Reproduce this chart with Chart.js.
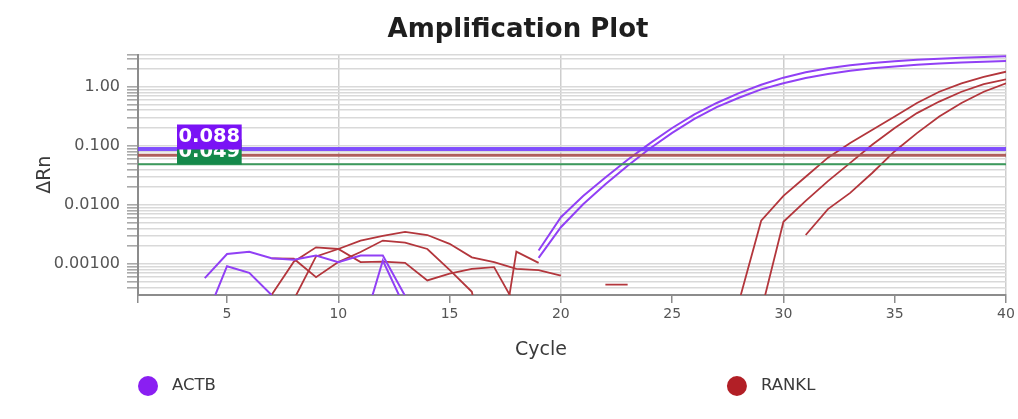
<!DOCTYPE html>
<html>
<head>
<meta charset="utf-8">
<title>Amplification Plot</title>
<script src="https://cdn.jsdelivr.net/npm/chart.js@4.4.1/dist/chart.umd.min.js"></script>
<style>
  html, body { margin: 0; padding: 0; background: #ffffff; }
  #plot { display: block; }
</style>
</head>
<body>
<canvas id="plot" width="1018" height="419"></canvas>
<script>
// Cycle numbers (x axis)
const cycles = [
  1, 2, 3, 4, 5, 6, 7, 8, 9, 10,
  11, 12, 13, 14, 15, 16, 17, 18, 19, 20,
  21, 22, 23, 24, 25, 26, 27, 28, 29, 30,
  31, 32, 33, 34, 35, 36, 37, 38, 39, 40
];

// ΔRn per cycle, one array per well (null = no positive value to plot)
const actbWell1 = [
  null, null, null, 0.00058, 0.00148, 0.00162, 0.00126, 0.00118, 0.00139, 0.00108,
  0.00139, 0.00139, 0.00029, null, null, null, null, null, 0.0017, 0.0062,
  0.0142, 0.029, 0.058, 0.11, 0.20, 0.34, 0.53, 0.78, 1.08, 1.42,
  1.75, 2.05, 2.3, 2.52, 2.7, 2.85, 2.98, 3.08, 3.18, 3.26
];
const actbWell2 = [
  null, null, null, 0.00011, 0.00092, 0.00071, 0.0003, null, null, null,
  0.000062, 0.00115, 0.00018, null, null, null, null, null, 0.00127, 0.0042,
  0.0103, 0.0223, 0.046, 0.09, 0.165, 0.285, 0.45, 0.65, 0.9, 1.14,
  1.4, 1.64, 1.86, 2.05, 2.2, 2.34, 2.46, 2.56, 2.65, 2.73
];
const ranklWell1 = [
  null, null, null, null, null, null, null, 0.00025, 0.00135, 0.0018,
  0.0025, 0.0030, 0.0035, 0.0031, 0.0022, 0.0013, 0.00108, 0.00083, 0.00079, 0.00064,
  null, null, null, null, null, null, null, 0.00023, 0.0054, 0.0142,
  0.030, 0.063, 0.112, 0.187, 0.313, 0.53, 0.82, 1.14, 1.47, 1.79
];
const ranklWell2 = [
  null, null, null, null, null, null, 0.00125, 0.00123, 0.0006, 0.00108,
  0.0016, 0.0025, 0.0023, 0.0018, 0.0008, 0.00034, 0.000007, 0.00162, 0.00105, null,
  null, null, null, null, null, null, null, null, 0.00016, 0.0052,
  0.0117, 0.0253, 0.0515, 0.105, 0.2, 0.357, 0.56, 0.82, 1.1, 1.33
];
const ranklWell3 = [
  null, null, null, null, null, null, 0.0003, 0.0011, 0.00192, 0.0018,
  0.00108, 0.0011, 0.00105, 0.00053, 0.00069, 0.00083, 0.00089, 0.00019, null, null,
  null, 0.00045, 0.00045, null, null, null, null, null, null, null,
  0.0031, 0.0085, 0.016, 0.035, 0.081, 0.164, 0.313, 0.53, 0.82, 1.14
];

// Detection thresholds
const thresholdActb = 0.088;
const thresholdRankl = 0.069;
const thresholdGreen = 0.049;

// Targets shown in the key
const targetNames = ['ACTB', 'RANKL'];

// Axis ticks
const xTicks = [1, 5, 10, 15, 20, 25, 30, 35, 40];
const yDecades = [0.0001, 0.001, 0.01, 0.1, 1];
const yDecadeLabels = ['0.000100', '0.00100', '0.0100', '0.100', '1.00'];
const yMinorSteps = [2, 3, 4, 5, 6, 7, 8, 9];
const yMin = 0.00034;
const yMax = 3.5;

// Styling
const FONT = '"DejaVu Sans", sans-serif';
const ACTB_LINE = '#9140f5';
const RANKL_LINE = '#b3363c';
const ACTB_DOT = '#8a1ff2';
const RANKL_DOT = '#b21f26';
const targetColors = [ACTB_DOT, RANKL_DOT];

const yTickValues = [];
yDecades.forEach(d => {
  [1].concat(yMinorSteps).forEach(m => {
    const v = +(d * m).toPrecision(6);
    if (v > yMin && v < yMax) yTickValues.push(v);
  });
});
yTickValues.push(yMax);

const toPoints = arr => cycles.map((c, i) => ({ x: c, y: arr[i] }));
const flat = v => [{ x: cycles[0], y: v }, { x: cycles[cycles.length - 1], y: v }];

function curve(label, arr, color, width) {
  return {
    label, data: toPoints(arr), borderColor: color, borderWidth: width,
    pointRadius: 0, tension: 0, spanGaps: false, order: 2
  };
}
function threshold(label, v, color, width) {
  return {
    label, data: flat(v), borderColor: color, borderWidth: width,
    pointRadius: 0, tension: 0, order: 1
  };
}

// Threshold value tags at the left of the plot
const thresholdTags = {
  id: 'thresholdTags',
  afterDatasetsDraw(chart) {
    const { ctx, chartArea, scales: { y } } = chart;
    const tags = [
      { text: thresholdGreen.toFixed(3), v: thresholdGreen, fill: '#14894a' },
      { text: thresholdActb.toFixed(3), v: thresholdActb, fill: '#7a12f5' }
    ];
    ctx.save();
    ctx.font = 'bold 19.5px ' + FONT;
    ctx.textBaseline = 'alphabetic';
    ctx.textAlign = 'left';
    tags.forEach(t => {
      const bottom = Math.round(y.getPixelForValue(t.v)) + 0.5;
      const w = ctx.measureText(t.text).width;
      const left = chartArea.left + 39;
      ctx.fillStyle = t.fill;
      ctx.fillRect(left, bottom - 25, w + 3, 25);
      ctx.fillStyle = '#ffffff';
      ctx.fillText(t.text, left + 1.5, bottom - 7.5);
    });
    ctx.restore();
  }
};

// x-axis caption and the target key under the plot
const captions = {
  id: 'captions',
  afterDraw(chart) {
    const { ctx, chartArea } = chart;
    ctx.save();
    ctx.fillStyle = '#3a3a3a';
    ctx.font = '19px ' + FONT;
    ctx.textAlign = 'center';
    ctx.textBaseline = 'middle';
    ctx.fillText('Cycle', (chartArea.left + chartArea.right) / 2 - 31, 350);

    const keyY = 386;
    const keyX = [chartArea.left + 10, chartArea.left + 0.69 * (chartArea.right - chartArea.left)];
    ctx.font = '16.5px ' + FONT;
    ctx.textAlign = 'left';
    targetNames.forEach((name, i) => {
      ctx.fillStyle = targetColors[i];
      ctx.beginPath();
      ctx.arc(keyX[i], keyY, 10, 0, Math.PI * 2);
      ctx.fill();
      ctx.fillStyle = '#3a3a3a';
      ctx.fillText(name, keyX[i] + 24, keyY);
    });
    ctx.restore();
  }
};

Chart.defaults.font.family = FONT;

new Chart(document.getElementById('plot'), {
  type: 'line',
  data: {
    datasets: [
      threshold('ACTB threshold', thresholdActb, 'rgba(118, 62, 255, 0.9)', 4),
      threshold('RANKL threshold', thresholdRankl, 'rgba(170, 80, 78, 0.9)', 3),
      threshold('Threshold', thresholdGreen, '#3c9a5c', 2),
      curve('ACTB', actbWell1, ACTB_LINE, 2),
      curve('ACTB', actbWell2, ACTB_LINE, 2),
      curve('RANKL', ranklWell1, RANKL_LINE, 1.8),
      curve('RANKL', ranklWell2, RANKL_LINE, 1.8),
      curve('RANKL', ranklWell3, RANKL_LINE, 1.8)
    ]
  },
  options: {
    responsive: false,
    animation: false,
    devicePixelRatio: 1,
    layout: { padding: { left: 30, right: 12, top: 0, bottom: 96 } },
    plugins: {
      legend: { display: false },
      tooltip: { enabled: false },
      title: {
        display: true,
        text: 'Amplification Plot',
        color: '#1e1e1e',
        font: { family: FONT, size: 26, weight: 'bold' },
        padding: { top: 14.5, bottom: 8.8 }
      }
    },
    scales: {
      x: {
        type: 'linear',
        min: 1,
        max: 40,
        afterBuildTicks: s => { s.ticks = xTicks.map(v => ({ value: v })); },
        afterFit: s => { s.height = 28; },
        ticks: {
          autoSkip: false,
          maxRotation: 0,
          padding: 3,
          color: '#555',
          font: { size: 14 },
          callback: v => (v === xTicks[0] ? '' : String(v))
        },
        grid: {
          color: c => (c.tick && c.tick.value % 10 === 0 ? '#cdcdcd' : 'rgba(0,0,0,0)'),
          lineWidth: 1.5,
          tickColor: '#8c8c8c',
          tickLength: 8,
          tickWidth: 1.5
        },
        border: { color: '#8c8c8c', width: 2 },
        title: { display: false }
      },
      y: {
        type: 'logarithmic',
        min: yMin,
        max: yMax,
        afterBuildTicks: s => { s.ticks = yTickValues.map(v => ({ value: v })); },
        afterFit: s => { s.width = 108; },
        ticks: {
          autoSkip: false,
          padding: 7,
          color: '#555',
          font: { size: 16 },
          callback: v => {
            const i = yDecades.findIndex(d => Math.abs(d - v) / d < 1e-6);
            return i >= 0 ? yDecadeLabels[i] : '';
          }
        },
        grid: {
          color: '#d9d9d9',
          lineWidth: 1.6,
          tickColor: '#a9a9a9',
          tickLength: 11,
          tickWidth: 1.6
        },
        border: { color: '#8c8c8c', width: 2 },
        title: {
          display: true,
          text: 'ΔRn',
          color: '#3a3a3a',
          font: { size: 19 },
          padding: { top: 4, bottom: 0 }
        }
      }
    }
  },
  plugins: [thresholdTags, captions]
});
</script>
</body>
</html>
